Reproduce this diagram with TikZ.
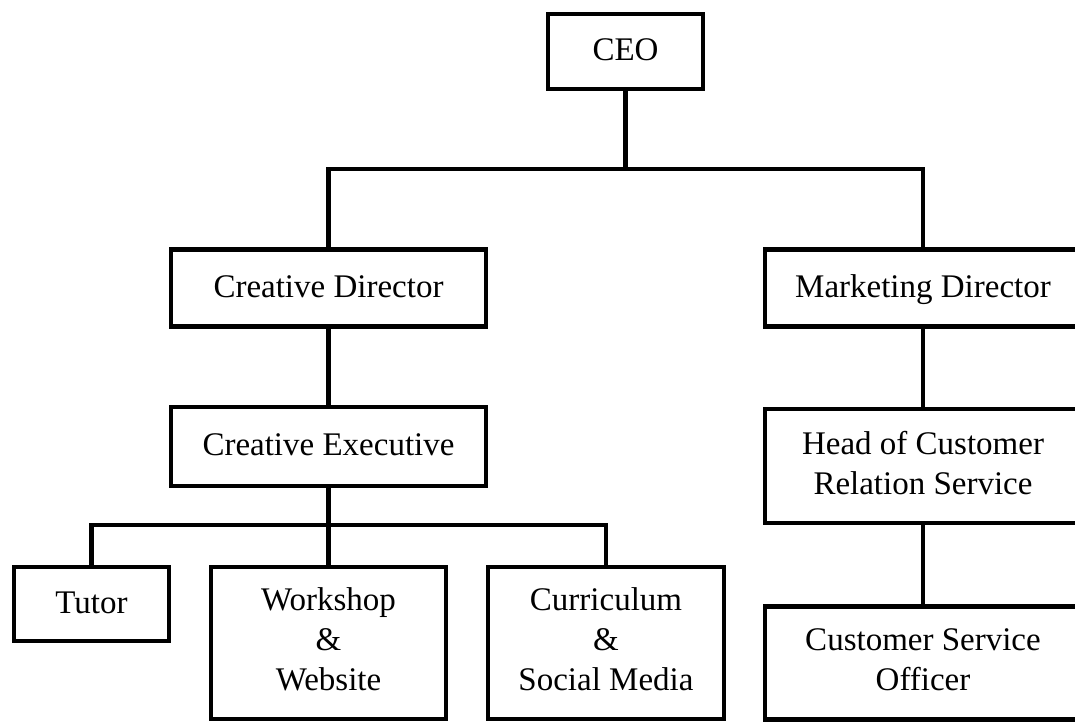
\documentclass[tikz,border=0pt]{standalone}
\usepackage{fontspec}
\setmainfont{Liberation Serif}
\tikzstyle{orgbox}=[draw, line width=4.5pt, inner sep=0pt, align=center, text depth=7pt, font=\fontsize{33}{40}\selectfont]
\tikzstyle{oneline}=[text height=25pt]
\tikzstyle{link}=[line width=4.5pt]

\begin{document}
\begin{tikzpicture}[x=1pt,y=-1pt]
\useasboundingbox (0,0) rectangle (1075,722);
\clip (0,0) rectangle (1075,722);

\node[orgbox,oneline,minimum width=155pt,minimum height=75pt](ceo) at (625.5, 51.5) {CEO};
\node[orgbox,oneline,minimum width=315pt,minimum height=77pt](cd) at (328.5, 288) {Creative Director};
\node[orgbox,oneline,minimum width=316pt,minimum height=77pt](md) at (923, 288) {Marketing Director};
\node[orgbox,oneline,minimum width=315pt,minimum height=79pt](ce) at (328.5, 446.5) {Creative Executive};
\node[orgbox,minimum width=316pt,minimum height=114pt](hcrs) at (923, 466) {Head of Customer\\Relation Service};
\node[orgbox,oneline,minimum width=155pt,minimum height=74pt](tutor) at (91.5, 604) {Tutor};
\node[orgbox,minimum width=235pt,minimum height=152pt](work) at (328.5, 643) {Workshop\\\&\\Website};
\node[orgbox,minimum width=236pt,minimum height=152pt](curr) at (606, 643) {Curriculum\\\&\\Social Media};
\node[orgbox,minimum width=316pt,minimum height=113pt](cso) at (923, 663) {Customer Service\\Officer};

\coordinate (j1) at (625.5, 169);
\coordinate (j2) at (328.5, 525);

\begin{scope}[every path/.style={link}]
       \draw (ceo) -- (j1);
       \draw (cd) |- (j1) -| (md);
       \draw (cd) -- (ce);
       \draw (md) -- (hcrs);
       \draw (hcrs) -- (cso);
       \draw (ce) -- (j2);
       \draw (tutor) |- (j2) -| (curr);
       \draw (j2) -- (work);
\end{scope}
\end{tikzpicture}
\end{document}
